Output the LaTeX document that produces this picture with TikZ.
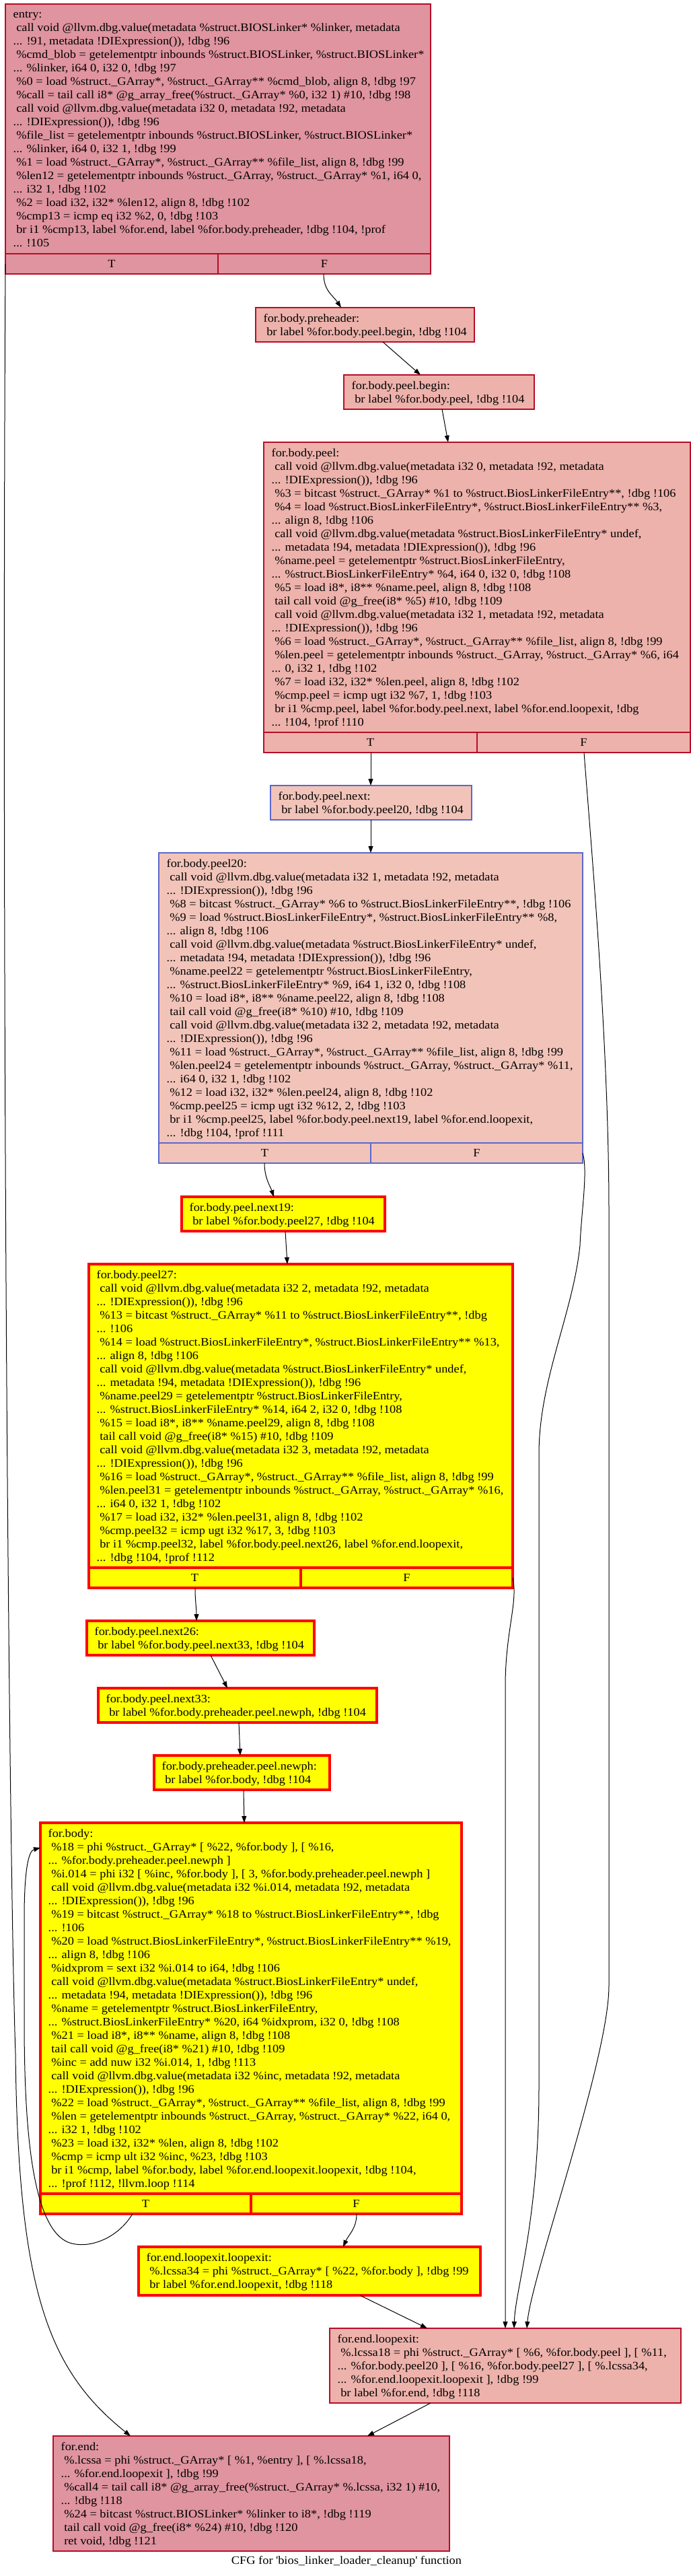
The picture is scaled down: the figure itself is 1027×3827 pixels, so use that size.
\documentclass[tikz,border=0pt]{standalone}
\usepackage{fontspec}
\setmainfont{Liberation Serif}[FakeStretch=1.08]
\usetikzlibrary{arrows.meta,calc}
\definecolor{hotred}{HTML}{B70D28}
\definecolor{coolblue}{HTML}{5A68CC}
\definecolor{fillA}{HTML}{DF949F}
\definecolor{fillB}{HTML}{EDB2AB}
\definecolor{fillC}{HTML}{F2C4B9}
\definecolor{hiyellow}{HTML}{FFFF00}
\definecolor{hired}{HTML}{FF0000}
\newcommand\cfgtext[1]{\begin{tabular}[t]{@{}l@{}}#1\end{tabular}}
\newcommand\tfrow[2]{%
  \draw[#2] ([yshift=30pt]#1.south west) -- ([yshift=30pt]#1.south east)
    (#1.south) -- ([yshift=30pt]#1.south);
  \node[lbl] (#1-T) at ($(#1.south west)!.5!(#1.south)+(0,-15)$) {T};
  \node[lbl] (#1-F) at ($(#1.south east)!.5!(#1.south)+(0,-15)$) {F};
}
\begin{document}
\begin{tikzpicture}[x=1pt,y=-1pt,
  box/.style={rectangle, inner sep=0pt, outer sep=0pt, anchor=north west},
  redline/.style={draw=hotred, line width=1.3pt},
  blueline/.style={draw=coolblue, line width=1.3pt},
  thickline/.style={draw=hired, line width=4pt},
  hotA/.style={box, redline, fill=fillA},
  hotB/.style={box, redline, fill=fillB},
  cool/.style={box, blueline, fill=fillC},
  hilite/.style={box, thickline, fill=hiyellow},
  txt/.style={anchor=base west, inner sep=0pt, font=\fontsize{17}{20}\selectfont},
  lbl/.style={inner sep=0pt, font=\fontsize{17}{20}\selectfont},
  edge/.style={draw=black, line width=1pt, -{Triangle[length=10pt,width=7pt]}}
]
\useasboundingbox (0,0) rectangle (1027,3827);

% ---------------- boxes ----------------
\node[hotA, minimum width=632pt, minimum height=401pt] (entry) at (8,6) {};
\node[hotB, minimum width=325pt, minimum height=51pt] (ph) at (380,457) {};
\node[hotB, minimum width=283pt, minimum height=51pt] (pbeg) at (511,557) {};
\node[hotB, minimum width=634pt, minimum height=461pt] (peel) at (392,657) {};
\node[cool, minimum width=299pt, minimum height=51pt] (pnext) at (402,1167) {};
\node[cool, minimum width=630pt, minimum height=461pt] (ptw) at (236,1267) {};
\node[hilite, minimum width=302pt, minimum height=51pt] (nnt) at (270,1778) {};
\node[hilite, minimum width=630pt, minimum height=481pt] (pts) at (132,1878) {};
\node[hilite, minimum width=338pt, minimum height=51pt] (ntx) at (129,2408) {};
\node[hilite, minimum width=414pt, minimum height=51pt] (ntt) at (146,2508) {};
\node[hilite, minimum width=261pt, minimum height=51pt] (newph) at (229,2608) {};
\node[hilite, minimum width=626pt, minimum height=581pt] (body) at (60,2708) {};
\node[hilite, minimum width=508pt, minimum height=72pt] (lel) at (206,3338) {};
\node[hotB, minimum width=522pt, minimum height=111pt] (fel) at (490,3459) {};
\node[hotA, minimum width=589pt, minimum height=171pt] (fend) at (79,3619) {};

\tfrow{entry}{redline}
\tfrow{peel}{redline}
\tfrow{ptw}{blueline}
\tfrow{pts}{thickline}
\tfrow{body}{thickline}

% ---------------- texts ----------------
\node[txt] (entry-x) at ($(entry.north west)+(11.5,21)$) {\cfgtext{%
entry:\\
\ call void @llvm.dbg.value(metadata \%struct.BIOSLinker* \%linker, metadata\\
... !91, metadata !DIExpression()), !dbg !96\\
\ \%cmd\_blob = getelementptr inbounds \%struct.BIOSLinker, \%struct.BIOSLinker*\\
... \%linker, i64 0, i32 0, !dbg !97\\
\ \%0 = load \%struct.\_GArray*, \%struct.\_GArray** \%cmd\_blob, align 8, !dbg !97\\
\ \%call = tail call i8* @g\_array\_free(\%struct.\_GArray* \%0, i32 1) \#10, !dbg !98\\
\ call void @llvm.dbg.value(metadata i32 0, metadata !92, metadata\\
... !DIExpression()), !dbg !96\\
\ \%file\_list = getelementptr inbounds \%struct.BIOSLinker, \%struct.BIOSLinker*\\
... \%linker, i64 0, i32 1, !dbg !99\\
\ \%1 = load \%struct.\_GArray*, \%struct.\_GArray** \%file\_list, align 8, !dbg !99\\
\ \%len12 = getelementptr inbounds \%struct.\_GArray, \%struct.\_GArray* \%1, i64 0,\\
... i32 1, !dbg !102\\
\ \%2 = load i32, i32* \%len12, align 8, !dbg !102\\
\ \%cmp13 = icmp eq i32 \%2, 0, !dbg !103\\
\ br i1 \%cmp13, label \%for.end, label \%for.body.preheader, !dbg !104, !prof\\
... !105}};

\node[txt] (ph-x) at ($(ph.north west)+(11.5,21)$) {\cfgtext{%
for.body.preheader:\\
\ br label \%for.body.peel.begin, !dbg !104}};

\node[txt] (pbeg-x) at ($(pbeg.north west)+(11.5,21)$) {\cfgtext{%
for.body.peel.begin:\\
\ br label \%for.body.peel, !dbg !104}};

\node[txt] (peel-x) at ($(peel.north west)+(11.5,21)$) {\cfgtext{%
for.body.peel:\\
\ call void @llvm.dbg.value(metadata i32 0, metadata !92, metadata\\
... !DIExpression()), !dbg !96\\
\ \%3 = bitcast \%struct.\_GArray* \%1 to \%struct.BiosLinkerFileEntry**, !dbg !106\\
\ \%4 = load \%struct.BiosLinkerFileEntry*, \%struct.BiosLinkerFileEntry** \%3,\\
... align 8, !dbg !106\\
\ call void @llvm.dbg.value(metadata \%struct.BiosLinkerFileEntry* undef,\\
... metadata !94, metadata !DIExpression()), !dbg !96\\
\ \%name.peel = getelementptr \%struct.BiosLinkerFileEntry,\\
... \%struct.BiosLinkerFileEntry* \%4, i64 0, i32 0, !dbg !108\\
\ \%5 = load i8*, i8** \%name.peel, align 8, !dbg !108\\
\ tail call void @g\_free(i8* \%5) \#10, !dbg !109\\
\ call void @llvm.dbg.value(metadata i32 1, metadata !92, metadata\\
... !DIExpression()), !dbg !96\\
\ \%6 = load \%struct.\_GArray*, \%struct.\_GArray** \%file\_list, align 8, !dbg !99\\
\ \%len.peel = getelementptr inbounds \%struct.\_GArray, \%struct.\_GArray* \%6, i64\\
... 0, i32 1, !dbg !102\\
\ \%7 = load i32, i32* \%len.peel, align 8, !dbg !102\\
\ \%cmp.peel = icmp ugt i32 \%7, 1, !dbg !103\\
\ br i1 \%cmp.peel, label \%for.body.peel.next, label \%for.end.loopexit, !dbg\\
... !104, !prof !110}};

\node[txt] (pnext-x) at ($(pnext.north west)+(11.5,21)$) {\cfgtext{%
for.body.peel.next:\\
\ br label \%for.body.peel20, !dbg !104}};

\node[txt] (ptw-x) at ($(ptw.north west)+(11.5,21)$) {\cfgtext{%
for.body.peel20:\\
\ call void @llvm.dbg.value(metadata i32 1, metadata !92, metadata\\
... !DIExpression()), !dbg !96\\
\ \%8 = bitcast \%struct.\_GArray* \%6 to \%struct.BiosLinkerFileEntry**, !dbg !106\\
\ \%9 = load \%struct.BiosLinkerFileEntry*, \%struct.BiosLinkerFileEntry** \%8,\\
... align 8, !dbg !106\\
\ call void @llvm.dbg.value(metadata \%struct.BiosLinkerFileEntry* undef,\\
... metadata !94, metadata !DIExpression()), !dbg !96\\
\ \%name.peel22 = getelementptr \%struct.BiosLinkerFileEntry,\\
... \%struct.BiosLinkerFileEntry* \%9, i64 1, i32 0, !dbg !108\\
\ \%10 = load i8*, i8** \%name.peel22, align 8, !dbg !108\\
\ tail call void @g\_free(i8* \%10) \#10, !dbg !109\\
\ call void @llvm.dbg.value(metadata i32 2, metadata !92, metadata\\
... !DIExpression()), !dbg !96\\
\ \%11 = load \%struct.\_GArray*, \%struct.\_GArray** \%file\_list, align 8, !dbg !99\\
\ \%len.peel24 = getelementptr inbounds \%struct.\_GArray, \%struct.\_GArray* \%11,\\
... i64 0, i32 1, !dbg !102\\
\ \%12 = load i32, i32* \%len.peel24, align 8, !dbg !102\\
\ \%cmp.peel25 = icmp ugt i32 \%12, 2, !dbg !103\\
\ br i1 \%cmp.peel25, label \%for.body.peel.next19, label \%for.end.loopexit,\\
... !dbg !104, !prof !111}};

\node[txt] (nnt-x) at ($(nnt.north west)+(11.5,21)$) {\cfgtext{%
for.body.peel.next19:\\
\ br label \%for.body.peel27, !dbg !104}};

\node[txt] (pts-x) at ($(pts.north west)+(11.5,21)$) {\cfgtext{%
for.body.peel27:\\
\ call void @llvm.dbg.value(metadata i32 2, metadata !92, metadata\\
... !DIExpression()), !dbg !96\\
\ \%13 = bitcast \%struct.\_GArray* \%11 to \%struct.BiosLinkerFileEntry**, !dbg\\
... !106\\
\ \%14 = load \%struct.BiosLinkerFileEntry*, \%struct.BiosLinkerFileEntry** \%13,\\
... align 8, !dbg !106\\
\ call void @llvm.dbg.value(metadata \%struct.BiosLinkerFileEntry* undef,\\
... metadata !94, metadata !DIExpression()), !dbg !96\\
\ \%name.peel29 = getelementptr \%struct.BiosLinkerFileEntry,\\
... \%struct.BiosLinkerFileEntry* \%14, i64 2, i32 0, !dbg !108\\
\ \%15 = load i8*, i8** \%name.peel29, align 8, !dbg !108\\
\ tail call void @g\_free(i8* \%15) \#10, !dbg !109\\
\ call void @llvm.dbg.value(metadata i32 3, metadata !92, metadata\\
... !DIExpression()), !dbg !96\\
\ \%16 = load \%struct.\_GArray*, \%struct.\_GArray** \%file\_list, align 8, !dbg !99\\
\ \%len.peel31 = getelementptr inbounds \%struct.\_GArray, \%struct.\_GArray* \%16,\\
... i64 0, i32 1, !dbg !102\\
\ \%17 = load i32, i32* \%len.peel31, align 8, !dbg !102\\
\ \%cmp.peel32 = icmp ugt i32 \%17, 3, !dbg !103\\
\ br i1 \%cmp.peel32, label \%for.body.peel.next26, label \%for.end.loopexit,\\
... !dbg !104, !prof !112}};

\node[txt] (ntx-x) at ($(ntx.north west)+(11.5,21)$) {\cfgtext{%
for.body.peel.next26:\\
\ br label \%for.body.peel.next33, !dbg !104}};

\node[txt] (ntt-x) at ($(ntt.north west)+(11.5,21)$) {\cfgtext{%
for.body.peel.next33:\\
\ br label \%for.body.preheader.peel.newph, !dbg !104}};

\node[txt] (newph-x) at ($(newph.north west)+(11.5,21)$) {\cfgtext{%
for.body.preheader.peel.newph:\\
\ br label \%for.body, !dbg !104}};

\node[txt] (body-x) at ($(body.north west)+(11.5,21)$) {\cfgtext{%
for.body:\\
\ \%18 = phi \%struct.\_GArray* [ \%22, \%for.body ], [ \%16,\\
... \%for.body.preheader.peel.newph ]\\
\ \%i.014 = phi i32 [ \%inc, \%for.body ], [ 3, \%for.body.preheader.peel.newph ]\\
\ call void @llvm.dbg.value(metadata i32 \%i.014, metadata !92, metadata\\
... !DIExpression()), !dbg !96\\
\ \%19 = bitcast \%struct.\_GArray* \%18 to \%struct.BiosLinkerFileEntry**, !dbg\\
... !106\\
\ \%20 = load \%struct.BiosLinkerFileEntry*, \%struct.BiosLinkerFileEntry** \%19,\\
... align 8, !dbg !106\\
\ \%idxprom = sext i32 \%i.014 to i64, !dbg !106\\
\ call void @llvm.dbg.value(metadata \%struct.BiosLinkerFileEntry* undef,\\
... metadata !94, metadata !DIExpression()), !dbg !96\\
\ \%name = getelementptr \%struct.BiosLinkerFileEntry,\\
... \%struct.BiosLinkerFileEntry* \%20, i64 \%idxprom, i32 0, !dbg !108\\
\ \%21 = load i8*, i8** \%name, align 8, !dbg !108\\
\ tail call void @g\_free(i8* \%21) \#10, !dbg !109\\
\ \%inc = add nuw i32 \%i.014, 1, !dbg !113\\
\ call void @llvm.dbg.value(metadata i32 \%inc, metadata !92, metadata\\
... !DIExpression()), !dbg !96\\
\ \%22 = load \%struct.\_GArray*, \%struct.\_GArray** \%file\_list, align 8, !dbg !99\\
\ \%len = getelementptr inbounds \%struct.\_GArray, \%struct.\_GArray* \%22, i64 0,\\
... i32 1, !dbg !102\\
\ \%23 = load i32, i32* \%len, align 8, !dbg !102\\
\ \%cmp = icmp ult i32 \%inc, \%23, !dbg !103\\
\ br i1 \%cmp, label \%for.body, label \%for.end.loopexit.loopexit, !dbg !104,\\
... !prof !112, !llvm.loop !114}};

\node[txt] (lel-x) at ($(lel.north west)+(11.5,21)$) {\cfgtext{%
for.end.loopexit.loopexit:\\
\ \%.lcssa34 = phi \%struct.\_GArray* [ \%22, \%for.body ], !dbg !99\\
\ br label \%for.end.loopexit, !dbg !118}};

\node[txt] (fel-x) at ($(fel.north west)+(11.5,21)$) {\cfgtext{%
for.end.loopexit:\\
\ \%.lcssa18 = phi \%struct.\_GArray* [ \%6, \%for.body.peel ], [ \%11,\\
... \%for.body.peel20 ], [ \%16, \%for.body.peel27 ], [ \%.lcssa34,\\
... \%for.end.loopexit.loopexit ], !dbg !99\\
\ br label \%for.end, !dbg !118}};

\node[txt] (fend-x) at ($(fend.north west)+(11.5,21)$) {\cfgtext{%
for.end:\\
\ \%.lcssa = phi \%struct.\_GArray* [ \%1, \%entry ], [ \%.lcssa18,\\
... \%for.end.loopexit ], !dbg !99\\
\ \%call4 = tail call i8* @g\_array\_free(\%struct.\_GArray* \%.lcssa, i32 1) \#10,\\
... !dbg !118\\
\ \%24 = bitcast \%struct.BIOSLinker* \%linker to i8*, !dbg !119\\
\ tail call void @g\_free(i8* \%24) \#10, !dbg !120\\
\ ret void, !dbg !121}};

\node[lbl] (caption) at (515,3805) {CFG for \textquotesingle bios\_linker\_loader\_cleanup\textquotesingle{} function};

% ---------------- edges ----------------
% entry T -> for.end
\draw[edge] ([yshift=15pt]entry.south west) .. controls (2,1500) and (14,2800) .. (23,3050)
   .. controls (27,3400) and (70,3520) .. ([xshift=115pt]fend.north west);
% entry F -> preheader
\draw[edge] ([xshift=-159pt]entry.south east) .. controls +(0,25) and +(-12,-18) .. ([xshift=127pt]ph.north west);
\draw[edge] ([xshift=189pt]ph.south west) -- ([xshift=114pt]pbeg.north west);
\draw[edge] ([xshift=146pt]pbeg.south west) -- ([xshift=274pt]peel.north west);
% peel T -> peel.next
\draw[edge] ([xshift=159pt]peel.south west) -- ([xshift=149pt]pnext.north west);
% peel F -> for.end.loopexit
\draw[edge] ([xshift=-158pt]peel.south east) .. controls (878,1250) and (905,1550) .. (905,1800)
   -- (905,2950) .. controls (905,3060) and (790,3380) .. ([xshift=293pt]fel.north west);
% peel.next -> peel20
\draw[edge] ([xshift=149pt]pnext.south west) -- ([xshift=315pt]ptw.north west);
% peel20 T -> next19
\draw[edge] ([xshift=157pt]ptw.south west) .. controls +(0,22) and +(-5,-15) .. ([xshift=137pt]nnt.north west);
% peel20 F -> for.end.loopexit
\draw[edge] ([yshift=15pt]ptw.south east) .. controls (874,1740) and (864,1800) .. (862,1850)
   .. controls (852,1950) and (801,2050) .. (801,2160) -- (801,3100)
   .. controls (801,3300) and (766,3400) .. ([xshift=274pt]fel.north west);
% next19 -> peel27
\draw[edge] ([xshift=154pt]nnt.south west) -- ([xshift=295pt]pts.north west);
% peel27 T -> next26
\draw[edge] ([xshift=158pt]pts.south west) .. controls +(0,20) and +(0,-20) .. ([xshift=163pt]ntx.north west);
% peel27 F -> for.end.loopexit
\draw[edge] ([yshift=15pt]pts.south east) .. controls (770,2380) and (752,2420) .. (751,2500)
   -- ([xshift=261pt]fel.north west);
% next26 -> next33
\draw[edge] ([xshift=184pt]ntx.south west) -- ([xshift=192pt]ntt.north west);
% next33 -> newph
\draw[edge] ([xshift=209pt]ntt.south west) -- ([xshift=128pt]newph.north west);
% newph -> for.body
\draw[edge] ([xshift=133pt]newph.south west) -- ([xshift=303pt]body.north west);
% for.body T -> for.body
\draw[edge] ([xshift=137pt]body.south west) .. controls (175,3325) and (135,3340) .. (107,3333)
   .. controls (45,3318) and (36,3150) .. (36,3000) -- (36,2850)
   .. controls (36,2780) and (42,2750) .. ([yshift=-37pt]body.north west);
% for.body F -> loopexit.loopexit
\draw[edge] ([xshift=-156pt]body.south east) .. controls +(0,22) and +(8,-18) .. ([xshift=304pt]lel.north west);
% loopexit.loopexit -> for.end.loopexit
\draw[edge] ([xshift=329pt]lel.south west) -- ([xshift=145pt]fel.north west);
% for.end.loopexit -> for.end
\draw[edge] ([xshift=150pt]fel.south west) -- ([xshift=-122pt]fend.north east);
\end{tikzpicture}
\end{document}
